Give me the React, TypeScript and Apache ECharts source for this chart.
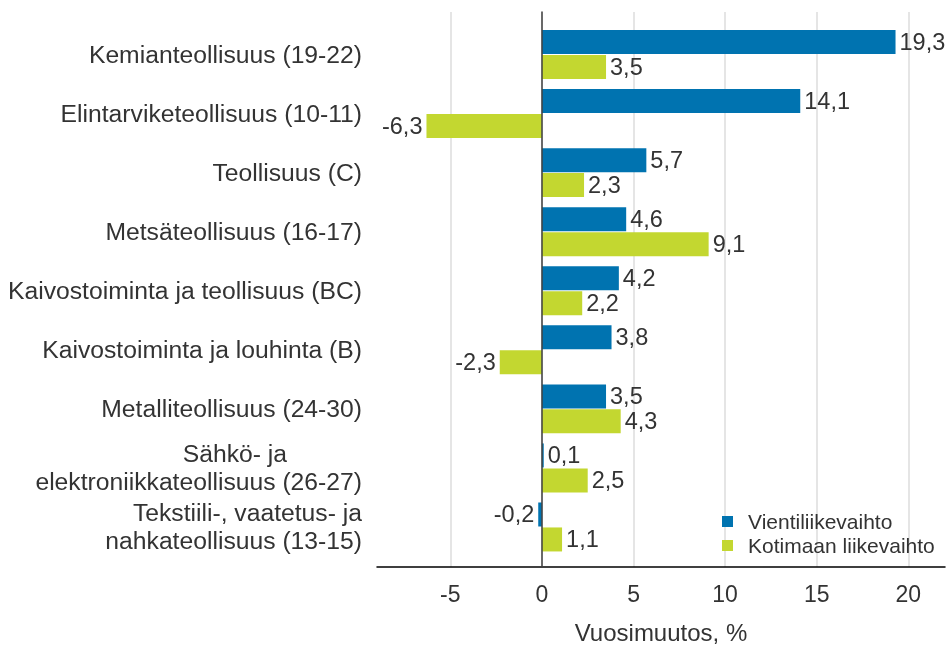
import React, { useEffect, useRef } from "react";
import * as echarts from "echarts";

const categories = [
  "Kemianteollisuus (19-22)",
  "Elintarviketeollisuus (10-11)",
  "Teollisuus (C)",
  "Metsäteollisuus (16-17)",
  "Kaivostoiminta ja teollisuus (BC)",
  "Kaivostoiminta ja louhinta (B)",
  "Metalliteollisuus (24-30)",
  "Sähkö- ja\nelektroniikkateollisuus (26-27)",
  "Tekstiili-, vaatetus- ja\nnahkateollisuus (13-15)",
];
const vienti = [19.3, 14.1, 5.7, 4.6, 4.2, 3.8, 3.5, 0.1, -0.2];
const kotimaan = [3.5, -6.3, 2.3, 9.1, 2.2, -2.3, 4.3, 2.5, 1.1];
const seriesNames = ["Vientiliikevaihto", "Kotimaan liikevaihto"];
const colors = ["#0073b0", "#c3d730"];
const xMin = -9;
const xMax = 22;
const axisName = "Vuosimuutos, %";

const FONT = "'Liberation Sans', Arial, sans-serif";
const TXT = "#333333";

const fmt = (v: number) => v.toFixed(1).replace(".", ",");

export default function App() {
  const ref = useRef<HTMLDivElement>(null);
  useEffect(() => {
    if (!ref.current) return;
    const chart = echarts.init(ref.current, undefined, { renderer: "svg" });
    const mkData = (arr: number[]) =>
      arr.map((v) => ({
        value: v,
        label: { position: v < 0 ? "left" : "right" },
      }));
    const grid0 = { left: 377, right: 4, top: 25, height: 531.5, outerBoundsMode: "none" };
    const grid1 = { left: 377, right: 4, top: 12, bottom: 79, outerBoundsMode: "none" };
    const lineStyle = {
      fontSize: 24.7,
      lineHeight: 28,
      align: "right",
      color: TXT,
      fontFamily: FONT,
    };
    chart.setOption({
      animation: false,
      textStyle: { fontFamily: FONT },
      grid: [grid0, grid1],
      legend: {
        orient: "vertical",
        left: 717,
        top: 506,
        itemWidth: 11,
        itemHeight: 11,
        itemGap: 3,
        icon: "rect",
        data: seriesNames,
        formatter: (n: string) => "{t|" + n + "}",
        textStyle: {
          fontSize: 21,
          color: TXT,
          fontFamily: FONT,
          rich: { t: { fontSize: 21, color: TXT, fontFamily: FONT, padding: [0, 0, 0, 10] } },
        },
      },
      xAxis: [
        {
          gridIndex: 0,
          type: "value",
          min: xMin,
          max: xMax,
          axisLine: { show: false },
          axisTick: { show: false },
          axisLabel: { show: false },
          splitLine: { show: false },
        },
        {
          gridIndex: 1,
          type: "value",
          min: xMin,
          max: xMax,
          minInterval: 5,
          maxInterval: 5,
          axisLine: { show: true, onZero: false, lineStyle: { color: "#000", width: 1.5 } },
          axisTick: { show: false },
          axisLabel: {
            showMinLabel: false,
            showMaxLabel: false,
            fontSize: 23,
            color: TXT,
            margin: 15,
            fontFamily: FONT,
          },
          splitLine: {
            show: true,
            showMinLine: false,
            showMaxLine: false,
            lineStyle: { color: "#dcdcdc", width: 1.5 },
          },
          name: axisName,
          nameLocation: "middle",
          nameGap: 53,
          nameTextStyle: { fontSize: 24, color: TXT, fontFamily: FONT },
        },
      ],
      yAxis: [
        {
          gridIndex: 0,
          type: "category",
          inverse: true,
          data: categories,
          axisLine: { show: false },
          axisTick: { show: false },
          axisLabel: {
            margin: 15,
            formatter: (s: string) => {
              const lines = s.split("\n");
              return lines
                .map((l, i) =>
                  lines.length > 1 && i === 0 && l.length < 12
                    ? "{p|" + l + "}"
                    : "{c|" + l + "}"
                )
                .join("\n");
            },
            rich: {
              c: lineStyle,
              p: { ...lineStyle, padding: [0, 75, 0, 0] },
            },
          },
        },
        {
          gridIndex: 1,
          type: "value",
          min: 0,
          max: 1,
          z: 5,
          axisLine: { show: true, onZero: true, lineStyle: { color: "#404040", width: 1.5 } },
          axisTick: { show: false },
          axisLabel: { show: false },
          splitLine: { show: false },
        },
      ],
      series: [
        {
          name: seriesNames[0],
          type: "bar",
          xAxisIndex: 0,
          yAxisIndex: 0,
          data: mkData(vienti),
          barWidth: 24,
          barGap: "4%",
          itemStyle: { color: colors[0] },
          label: {
            show: true,
            fontSize: 23.5,
            color: TXT,
            distance: 4,
            fontFamily: FONT,
            formatter: (p: any) => fmt(p.value),
          },
        },
        {
          name: seriesNames[1],
          type: "bar",
          xAxisIndex: 0,
          yAxisIndex: 0,
          data: mkData(kotimaan),
          barWidth: 24,
          barGap: "4%",
          itemStyle: { color: colors[1] },
          label: {
            show: true,
            fontSize: 23.5,
            color: TXT,
            distance: 4,
            fontFamily: FONT,
            formatter: (p: any) => fmt(p.value),
          },
        },
      ],
    });
    return () => chart.dispose();
  }, []);
  return (
    <div
      ref={ref}
      style={{ position: "fixed", left: 0, top: 0, width: 949, height: 646 }}
    />
  );
}
